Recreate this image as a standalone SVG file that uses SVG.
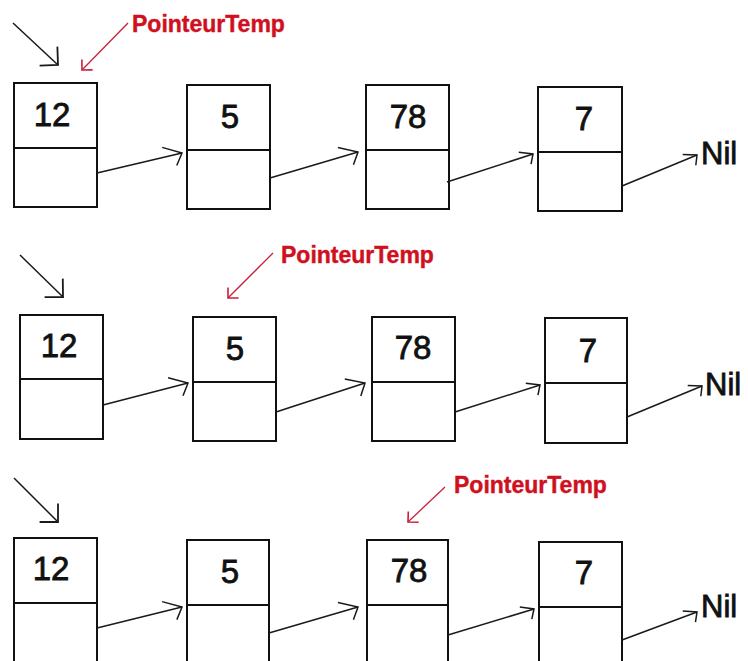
<svg xmlns="http://www.w3.org/2000/svg" width="748" height="661" viewBox="0 0 748 661">
  <defs>
    <style>
      .cell { fill: #ffffff; stroke: #111111; stroke-width: 2; }
      .div { stroke: #111111; stroke-width: 2; }
      .val { font-family: "Liberation Sans", Arial, sans-serif; font-size: 33px; fill: #111111; stroke: #111111; stroke-width: 0.8; text-anchor: middle; }
      .nil { font-family: "Liberation Sans", Arial, sans-serif; font-size: 31px; fill: #111111; stroke: #111111; stroke-width: 0.8; }
      .tmp { font-family: "Liberation Sans", Arial, sans-serif; font-size: 23px; font-weight: bold; fill: #d0101e; stroke: #d0101e; stroke-width: 0.4; }
      .link { stroke: #1a1a1a; stroke-width: 1.5; fill: none; }
      .link-lg { marker-end: url(#head-lg); }
      .link-sm { marker-end: url(#head); }
      .head { stroke: #1a1a1a; stroke-width: 1.5; fill: none; }
      .ptr { stroke: #1a1a1a; stroke-width: 1.5; fill: none; marker-end: url(#ptr-head); }
      .ptr-red { stroke: #c8203a; stroke-width: 1.3; fill: none; marker-end: url(#ptr-red-head); }
    </style>
    <!-- open arrowheads, drawn in the line's own frame (tip at origin) -->
    <marker id="head-lg" markerUnits="userSpaceOnUse" orient="auto" refX="0" refY="0" overflow="visible">
      <path class="head" d="M-18,-10 L0,0 L-8,11"/>
    </marker>
    <marker id="head" markerUnits="userSpaceOnUse" orient="auto" refX="0" refY="0" overflow="visible">
      <path class="head" d="M-13,-6 L0,0 L-5,9"/>
    </marker>
    <marker id="ptr-head" markerUnits="userSpaceOnUse" orient="auto" refX="0" refY="0" overflow="visible">
      <path d="M-13,-13 L0,0 L-13,13" stroke="#1a1a1a" stroke-width="1.8" fill="none"/>
    </marker>
    <marker id="ptr-red-head" markerUnits="userSpaceOnUse" orient="auto" refX="0" refY="0" overflow="visible">
      <path d="M-7.5,-7.5 L0,0 L-7.5,7.5" stroke="#c8203a" stroke-width="1.6" fill="none"/>
    </marker>
  </defs>

  <rect width="748" height="661" fill="#ffffff"/>

  <!-- ===== List 1: temp pointer on the first cell ===== -->
  <g id="l1-head">
    <line class="ptr" x1="13" y1="23" x2="58" y2="65"/>
  </g>
  <g id="l1-temp">
    <line class="ptr-red" x1="128" y1="23" x2="82" y2="70"/>
    <text class="tmp" x="132" y="32">PointeurTemp</text>
  </g>
  <g id="l1-n12">
    <rect class="cell" x="14" y="83" width="83" height="124"/>
    <line class="div" x1="14" y1="148" x2="97" y2="148"/>
    <text class="val" x="52" y="126">12</text>
  </g>
  <g id="l1-n5">
    <rect class="cell" x="187" y="85" width="83" height="124"/>
    <line class="div" x1="187" y1="150" x2="270" y2="150"/>
    <text class="val" x="230" y="128">5</text>
  </g>
  <g id="l1-n78">
    <rect class="cell" x="366" y="85" width="83" height="124"/>
    <line class="div" x1="366" y1="150" x2="449" y2="150"/>
    <text class="val" x="408" y="128">78</text>
  </g>
  <g id="l1-n7">
    <rect class="cell" x="538" y="87" width="84" height="124"/>
    <line class="div" x1="538" y1="152" x2="622" y2="152"/>
    <text class="val" x="584" y="130">7</text>
  </g>
  <g id="l1-nil">
    <text class="nil" x="701" y="164">Nil</text>
  </g>
  <g id="l1-links">
    <line class="link link-lg" x1="97" y1="173" x2="182" y2="153"/>
    <line class="link link-lg" x1="270" y1="178" x2="358" y2="152"/>
    <line class="link link-sm" x1="447" y1="182" x2="533" y2="154"/>
    <line class="link link-sm" x1="622" y1="186" x2="697" y2="155"/>
  </g>

  <!-- ===== List 2: temp pointer on the second cell ===== -->
  <g id="l2-head">
    <line class="ptr" x1="20" y1="255" x2="63" y2="297"/>
  </g>
  <g id="l2-temp">
    <line class="ptr-red" x1="273" y1="253" x2="228" y2="298"/>
    <text class="tmp" x="281" y="263">PointeurTemp</text>
  </g>
  <g id="l2-n12">
    <rect class="cell" x="20" y="315" width="83" height="124"/>
    <line class="div" x1="20" y1="379" x2="103" y2="379"/>
    <text class="val" x="59" y="357">12</text>
  </g>
  <g id="l2-n5">
    <rect class="cell" x="193" y="317" width="83" height="124"/>
    <line class="div" x1="193" y1="382" x2="276" y2="382"/>
    <text class="val" x="235" y="360">5</text>
  </g>
  <g id="l2-n78">
    <rect class="cell" x="372" y="317" width="83" height="124"/>
    <line class="div" x1="372" y1="382" x2="455" y2="382"/>
    <text class="val" x="413" y="359">78</text>
  </g>
  <g id="l2-n7">
    <rect class="cell" x="545" y="318" width="82" height="125"/>
    <line class="div" x1="545" y1="383" x2="627" y2="383"/>
    <text class="val" x="588" y="362">7</text>
  </g>
  <g id="l2-nil">
    <text class="nil" x="705" y="395">Nil</text>
  </g>
  <g id="l2-links">
    <line class="link link-lg" x1="103" y1="405" x2="188" y2="383"/>
    <line class="link link-lg" x1="276" y1="412" x2="365" y2="383"/>
    <line class="link link-sm" x1="455" y1="412" x2="540" y2="385"/>
    <line class="link link-sm" x1="627" y1="417" x2="702" y2="386"/>
  </g>

  <!-- ===== List 3: temp pointer on the third cell ===== -->
  <g id="l3-head">
    <line class="ptr" x1="14" y1="478" x2="58" y2="522"/>
  </g>
  <g id="l3-temp">
    <line class="ptr-red" x1="445" y1="487" x2="408" y2="522"/>
    <text class="tmp" x="454" y="493">PointeurTemp</text>
  </g>
  <g id="l3-n12">
    <rect class="cell" x="14" y="538" width="83" height="130"/>
    <line class="div" x1="14" y1="603" x2="97" y2="603"/>
    <text class="val" x="51" y="580">12</text>
  </g>
  <g id="l3-n5">
    <rect class="cell" x="187" y="540" width="82" height="130"/>
    <line class="div" x1="187" y1="605" x2="269" y2="605"/>
    <text class="val" x="230" y="583">5</text>
  </g>
  <g id="l3-n78">
    <rect class="cell" x="367" y="540" width="81" height="130"/>
    <line class="div" x1="367" y1="605" x2="448" y2="605"/>
    <text class="val" x="409" y="582">78</text>
  </g>
  <g id="l3-n7">
    <rect class="cell" x="539" y="542" width="83" height="130"/>
    <line class="div" x1="539" y1="607" x2="622" y2="607"/>
    <text class="val" x="584" y="584">7</text>
  </g>
  <g id="l3-nil">
    <text class="nil" x="701" y="617">Nil</text>
  </g>
  <g id="l3-links">
    <line class="link link-lg" x1="97" y1="628" x2="182" y2="607"/>
    <line class="link link-lg" x1="269" y1="633" x2="358" y2="607"/>
    <line class="link link-sm" x1="448" y1="635" x2="534" y2="609"/>
    <line class="link link-sm" x1="622" y1="640" x2="697" y2="612"/>
  </g>
</svg>
